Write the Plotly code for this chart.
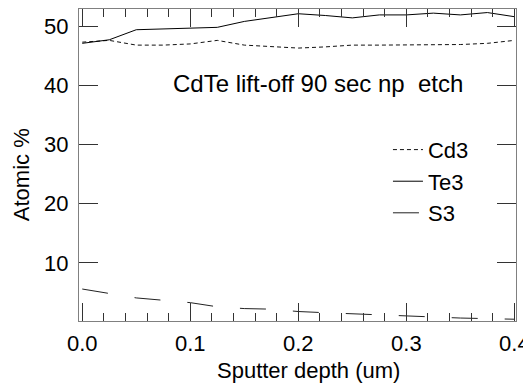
import plotly.graph_objects as go

depth = [0.0, 0.025, 0.05, 0.075, 0.1, 0.125, 0.15, 0.175, 0.2, 0.225, 0.25, 0.275, 0.3, 0.325, 0.35, 0.375, 0.4]
cd3 = [47.3, 47.6, 46.8, 46.8, 47.0, 47.6, 46.8, 46.6, 46.3, 46.5, 46.8, 46.8, 46.8, 46.9, 46.9, 47.1, 47.6]
te3 = [47.1, 47.7, 49.4, 49.5, 49.7, 49.8, 50.8, 51.4, 52.1, 51.8, 51.4, 51.9, 51.9, 52.2, 51.9, 52.3, 51.6]
s3 = [5.6, 4.8, 4.1, 3.7, 3.3, 2.6, 2.3, 2.2, 1.8, 1.6, 1.4, 1.2, 1.0, 0.9, 0.7, 0.6, 0.5]

x_ticks = [0.0, 0.1, 0.2, 0.3, 0.4]
x_labels = ["0.0", "0.1", "0.2", "0.3", "0.4"]
y_ticks = [10, 20, 30, 40, 50]

FONT = "Liberation Sans, Arial, sans-serif"

fig = go.Figure()
fig.add_trace(go.Scatter(x=depth, y=cd3, mode="lines", name="Cd3",
                         line=dict(color="#111", width=1, dash="4px,3px")))
fig.add_trace(go.Scatter(x=depth, y=te3, mode="lines", name="Te3",
                         line=dict(color="#000", width=1)))
fig.add_trace(go.Scatter(x=depth, y=s3, mode="lines", name="S3",
                         line=dict(color="#222", width=1, dash="26px,27px")))

fig.add_annotation(x=0.2185, y=40.3, xref="x", yref="y",
                   text="CdTe lift-off 90 sec np  etch", showarrow=False,
                   xanchor="center", yanchor="middle",
                   font=dict(family=FONT, size=24, color="#000"))

# axis titles placed as annotations for exact positioning
fig.add_annotation(x=0.526, y=-0.158, xref="paper", yref="paper",
                   text="Sputter depth (um)", showarrow=False,
                   xanchor="center", yanchor="middle",
                   font=dict(family=FONT, size=22, color="#000"))
fig.add_annotation(x=-0.130, y=0.468, xref="paper", yref="paper",
                   text="Atomic %", showarrow=False, textangle=-90,
                   xanchor="center", yanchor="middle",
                   font=dict(family=FONT, size=22, color="#000"))

# page body has an 8px margin: figure is sized/offset so the plot area lands
# at x 79..516, y 9..321 in the 531x387 window
fig.update_layout(
    width=523, height=379,
    margin=dict(l=71, r=15, t=1, b=66, autoexpand=False),
    paper_bgcolor="white", plot_bgcolor="white",
    font=dict(family=FONT, size=22, color="#000"),
    showlegend=True,
    legend=dict(x=0.707, y=0.616, xanchor="left", yanchor="top",
                bgcolor="rgba(0,0,0,0)", font=dict(family=FONT, size=22, color="#000"),
                borderwidth=0, tracegroupgap=0),
    xaxis=dict(range=[-0.003, 0.4015], tickvals=x_ticks, ticktext=x_labels,
               ticks="inside", ticklen=18, tickwidth=1, tickcolor="#333",
               minor=dict(dtick=0.02, tick0=0, ticks="inside", ticklen=8, tickcolor="#333", tickwidth=1, showgrid=False),
               showline=True, linecolor="#808080", linewidth=1, mirror="allticks",
               showgrid=False, zeroline=False, automargin=False,
               ticklabelstandoff=3,
               tickfont=dict(family=FONT, size=22)),
    yaxis=dict(range=[0.2, 52.9], tickvals=y_ticks,
               ticks="inside", ticklen=19, tickwidth=1, tickcolor="#333",
               showline=True, linecolor="#808080", linewidth=1, mirror="allticks",
               showgrid=False, zeroline=False, automargin=False,
               ticklabelstandoff=5,
               tickfont=dict(family=FONT, size=22)),
)

fig.write_html("out.html")
